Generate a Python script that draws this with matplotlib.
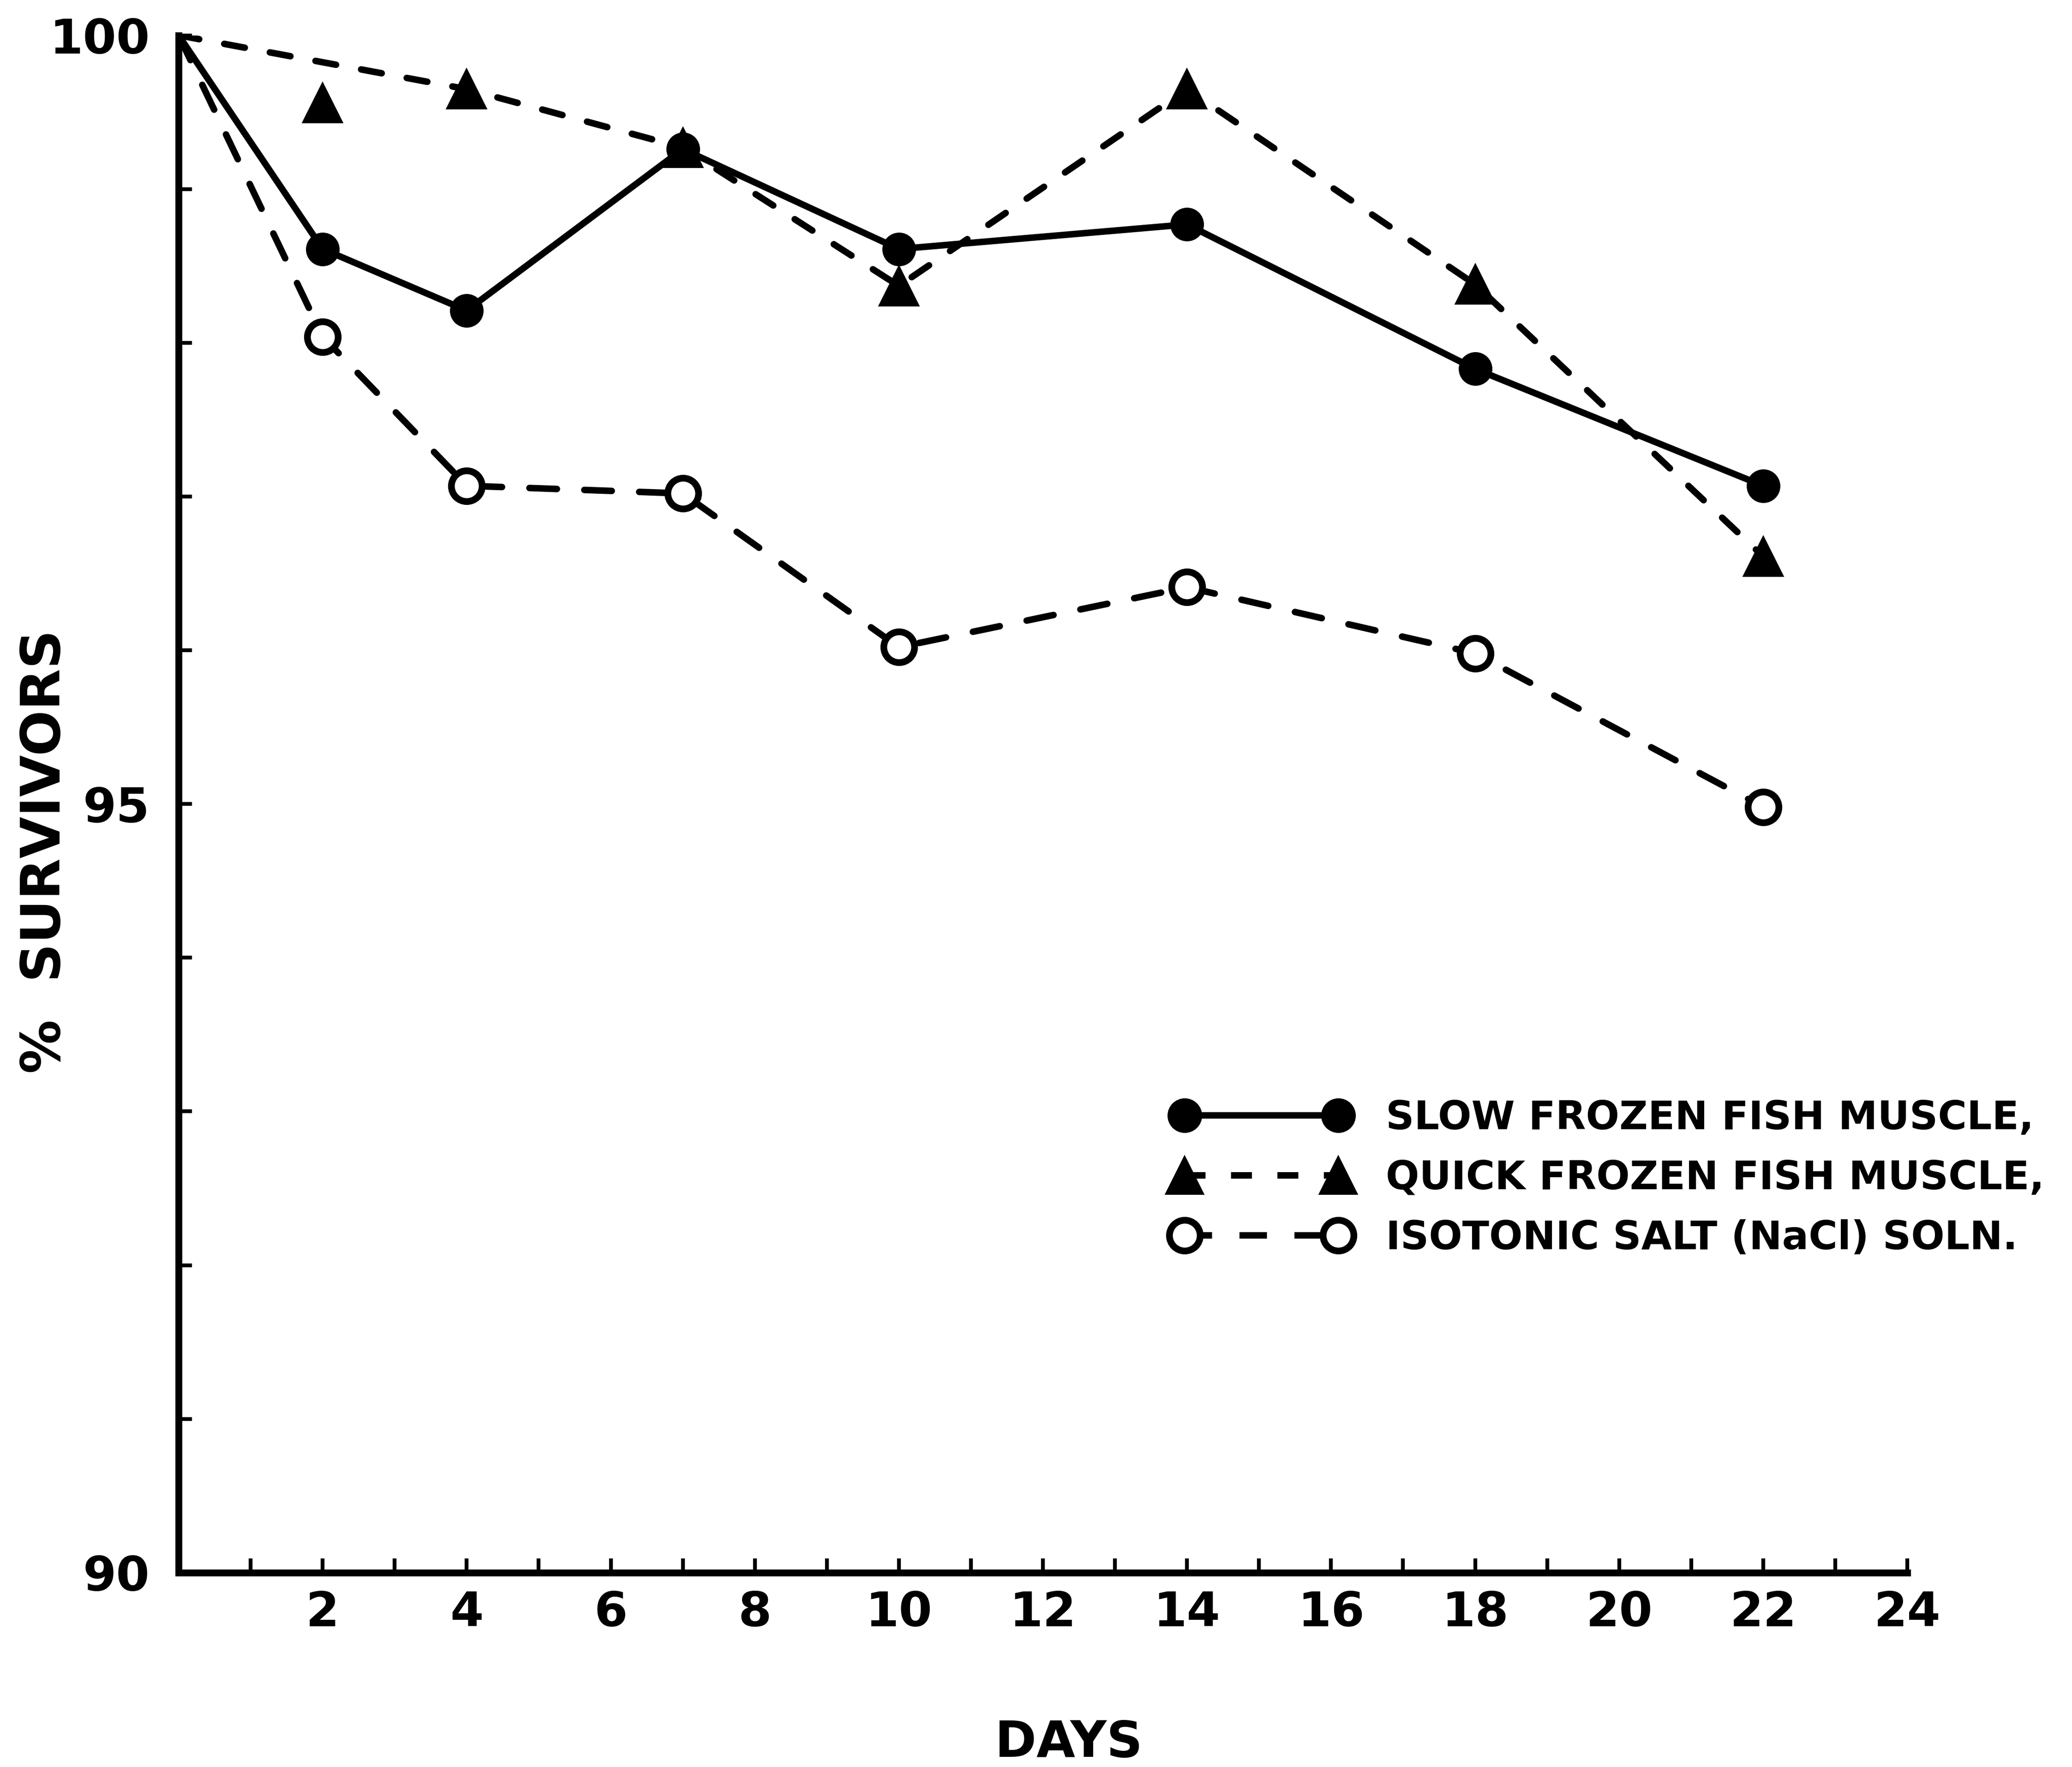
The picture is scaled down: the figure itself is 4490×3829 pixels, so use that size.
import matplotlib
matplotlib.use('Agg')
import matplotlib.pyplot as plt
from matplotlib.lines import Line2D

plt.rcParams['font.family'] = ['DejaVu Sans']
plt.rcParams['font.weight'] = 'bold'

# data (% survivors vs days)
slow_days = [0, 2, 4, 7, 10, 14, 18, 22]
slow_vals = [100, 98.61, 98.21, 99.26, 98.61, 98.77, 97.83, 97.07]

quick_days = [0, 2, 4, 7, 10, 14, 18, 22]
quick_vals = [100, 99.56, 99.65, 99.27, 98.37, 99.65, 98.38, 96.61]
quick_line = [0, 2, 3, 4, 5, 6, 7]   # day-2 triangle is not on the line

salt_days = [0, 2, 4, 7, 10, 14, 18, 22]
salt_vals = [100, 98.04, 97.07, 97.02, 96.02, 96.41, 95.98, 94.98]

labels = ['SLOW FROZEN FISH MUSCLE,', 'QUICK FROZEN FISH MUSCLE,', 'ISOTONIC SALT (NaCl) SOLN.']

fig = plt.figure(figsize=(4490/300, 3829/300), dpi=300)
ax = fig.add_axes([0.0862, 0.110, 0.8343, 0.870])

lw = 3.4
qd = (0, (3.2, 3.9))
sd = (0, (4.2, 4.2))

ax.plot(slow_days, slow_vals, color='black', lw=lw, solid_capstyle='round')
ax.plot(slow_days[1:], slow_vals[1:], ls='none', marker='o', ms=16.5, color='black')

ax.plot([quick_days[i] for i in quick_line], [quick_vals[i] for i in quick_line],
        color='black', lw=lw, ls=qd, dash_capstyle='round')
ax.plot(quick_days[1:], quick_vals[1:], ls='none', marker='^', ms=20, color='black')

ax.plot(salt_days, salt_vals, color='black', lw=lw, ls=sd, dash_capstyle='round')
ax.plot(salt_days[1:], salt_vals[1:], ls='none', marker='o', ms=16, mfc='white',
        mec='black', mew=3.5, zorder=5)

ax.set_xlim(0, 24)
ax.set_ylim(90, 100)
for s in ['top', 'right']:
    ax.spines[s].set_visible(False)
for s in ['left', 'bottom']:
    ax.spines[s].set_linewidth(3.6)

ax.set_xticks(range(1, 25))
ax.set_xticklabels([str(d) if d % 2 == 0 else '' for d in range(1, 25)])
ax.set_yticks(range(90, 101))
ax.set_yticklabels([str(v) if v % 5 == 0 else '' for v in range(90, 101)])
ax.tick_params(axis='x', direction='in', length=7.5, width=2, pad=9, labelsize=25)
ax.tick_params(axis='y', direction='in', length=7, width=2, pad=15, labelsize=25)

ax.set_xlabel('DAYS', fontsize=26, fontweight='bold')
ax.xaxis.set_label_coords(0.515, -0.095)
ax.set_ylabel('%  SURVIVORS', fontsize=28, fontweight='bold')
ax.yaxis.set_label_coords(-0.062, 0.469)

handles = [
    Line2D([], [], color='black', lw=lw, marker='o', ms=17),
    Line2D([], [], color='black', lw=lw, ls=qd, marker='^', ms=19),
    Line2D([], [], color='black', lw=lw, ls=sd, marker='o', ms=16, mfc='white', mew=3.5),
]
ax.legend(handles, labels, loc='upper left', bbox_to_anchor=(0.566, 0.378),
          bbox_transform=fig.transFigure, frameon=False, numpoints=2,
          handlelength=4.5, handletextpad=0.9, labelspacing=0.55, borderpad=0,
          borderaxespad=0, prop={'size': 20.5, 'weight': 'bold'})

fig.savefig('out.png', dpi=300)
